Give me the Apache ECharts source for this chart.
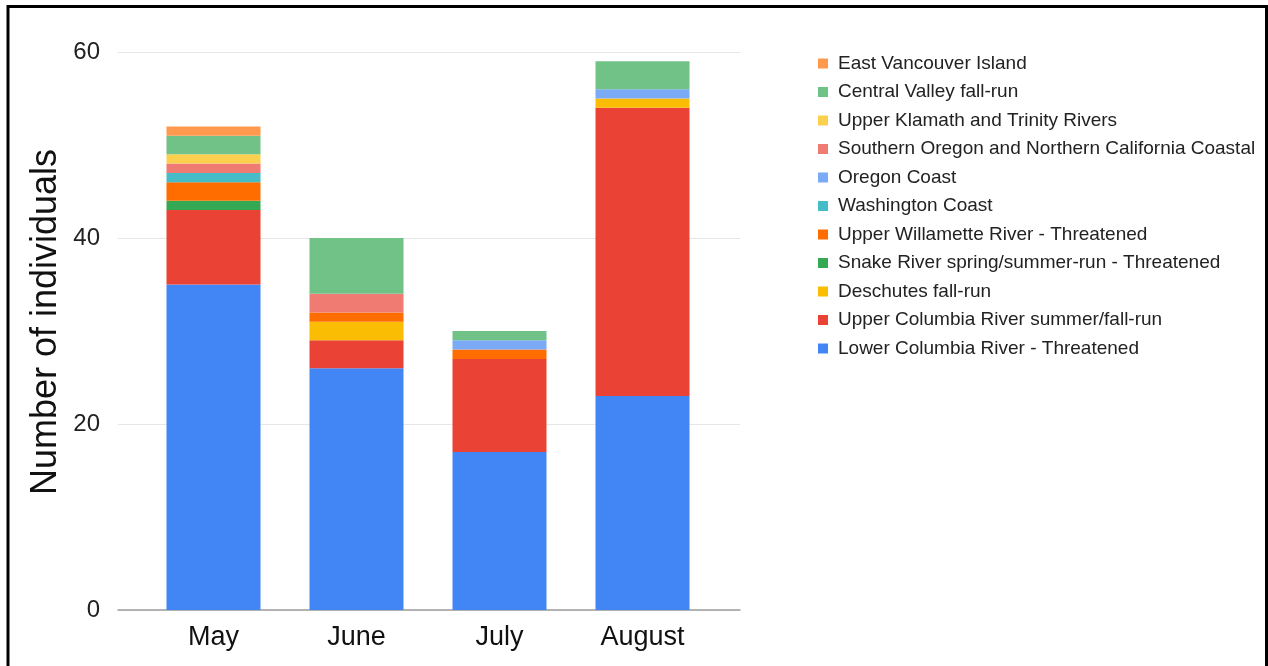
<!DOCTYPE html>
<html>
<head>
<meta charset="utf-8">
<script src="https://cdn.jsdelivr.net/npm/echarts@6/dist/echarts.min.js"></script>
<style>html,body{margin:0;padding:0;background:#fff;}#c{width:1268px;height:666px;}</style>
</head>
<body>
<div id="c"></div>
<script>
const months = ['May', 'June', 'July', 'August'];
const yTicks = [0, 20, 40, 60];

// series in stacking order (bottom to top)
const seriesNames = [
  'Lower Columbia River - Threatened',
  'Upper Columbia River summer/fall-run',
  'Deschutes fall-run',
  'Snake River spring/summer-run - Threatened',
  'Upper Willamette River - Threatened',
  'Washington Coast',
  'Oregon Coast',
  'Southern Oregon and Northern California Coastal',
  'Upper Klamath and Trinity Rivers',
  'Central Valley fall-run',
  'East Vancouver Island'
];
const lowerColumbia = [35, 26, 17, 23];
const upperColumbia = [8, 3, 10, 31];
const deschutes = [0, 2, 0, 1];
const snakeRiver = [1, 0, 0, 0];
const upperWillamette = [2, 1, 1, 0];
const washingtonCoast = [1, 0, 0, 0];
const oregonCoast = [0, 0, 1, 1];
const soncc = [1, 2, 0, 0];
const klamath = [1, 0, 0, 0];
const centralValley = [2, 6, 1, 3];
const eastVancouver = [1, 0, 0, 0];
const seriesValues = [lowerColumbia, upperColumbia, deschutes, snakeRiver, upperWillamette,
  washingtonCoast, oregonCoast, soncc, klamath, centralValley, eastVancouver];
const colors = ['#4285F4', '#EA4335', '#FBBC04', '#34A853', '#FF6D01', '#46BDC6',
  '#7BAAF7', '#F07B72', '#FCD04F', '#71C287', '#FF994D'];

const FONT = '"Liberation Sans", Arial, sans-serif';
const chart = echarts.init(document.getElementById('c'));

const series = seriesNames.map((n, i) => ({
  name: n,
  type: 'bar',
  stack: 'total',
  xAxisIndex: 0,
  yAxisIndex: 0,
  barWidth: 94,
  itemStyle: { color: colors[i] },
  emphasis: { disabled: true },
  data: seriesValues[i].map(v => v === 0 ? null : v)
}));
// helper series for the background grid (empty)
series.push({ type: 'line', xAxisIndex: 1, yAxisIndex: 1, data: [], silent: true });

chart.setOption({
  animation: false,
  backgroundColor: '#fff',
  color: colors,
  grid: [
    { left: 142, right: 554, top: 52, bottom: 56 },
    { left: 118, right: 528, top: 52, bottom: 56 }
  ],
  xAxis: [
    { type: 'category', gridIndex: 0, data: months,
      axisLine: { show: false }, axisTick: { show: false },
      axisLabel: { color: '#111', fontSize: 27, fontFamily: FONT, margin: 14 } },
    { type: 'value', gridIndex: 1, min: 0, max: 1,
      axisLine: { show: true, lineStyle: { color: '#9e9e9e', width: 1.5 } },
      axisTick: { show: false }, axisLabel: { show: false }, splitLine: { show: false } }
  ],
  yAxis: [
    { type: 'value', gridIndex: 0, min: 0, max: 60, interval: 20,
      axisLabel: { show: false }, splitLine: { show: false },
      axisLine: { show: false }, axisTick: { show: false } },
    { type: 'value', gridIndex: 1, min: 0, max: 60, interval: 20,
      name: 'Number of individuals', nameLocation: 'middle', nameGap: 54,
      nameTextStyle: { color: '#111', fontSize: 36, fontFamily: FONT, padding: [0, 0, 0, 18] },
      axisLabel: { color: '#222', fontSize: 24, fontFamily: FONT, margin: 18,
        formatter: v => yTicks.includes(v) ? String(v) : '' },
      splitLine: { show: true, lineStyle: { color: '#e6e6e6', width: 1 } },
      axisLine: { show: false }, axisTick: { show: false } }
  ],
  legend: {
    orient: 'vertical',
    left: 813,
    top: 49,
    data: seriesNames.slice().reverse(),
    icon: 'rect',
    itemWidth: 10,
    itemHeight: 10,
    itemGap: 9.5,
    textStyle: { color: '#222', fontSize: 19, fontFamily: FONT, lineHeight: 19, padding: [0, 0, 0, 5] },
    selectedMode: false
  },
  graphic: [
    { type: 'polyline', shape: { points: [[8, 666], [8, 6.5], [1266.5, 6.5], [1266.5, 666]] },
      style: { stroke: '#000', lineWidth: 3, fill: null }, z: 100 }
  ],
  series: series
});
</script>
</body>
</html>
